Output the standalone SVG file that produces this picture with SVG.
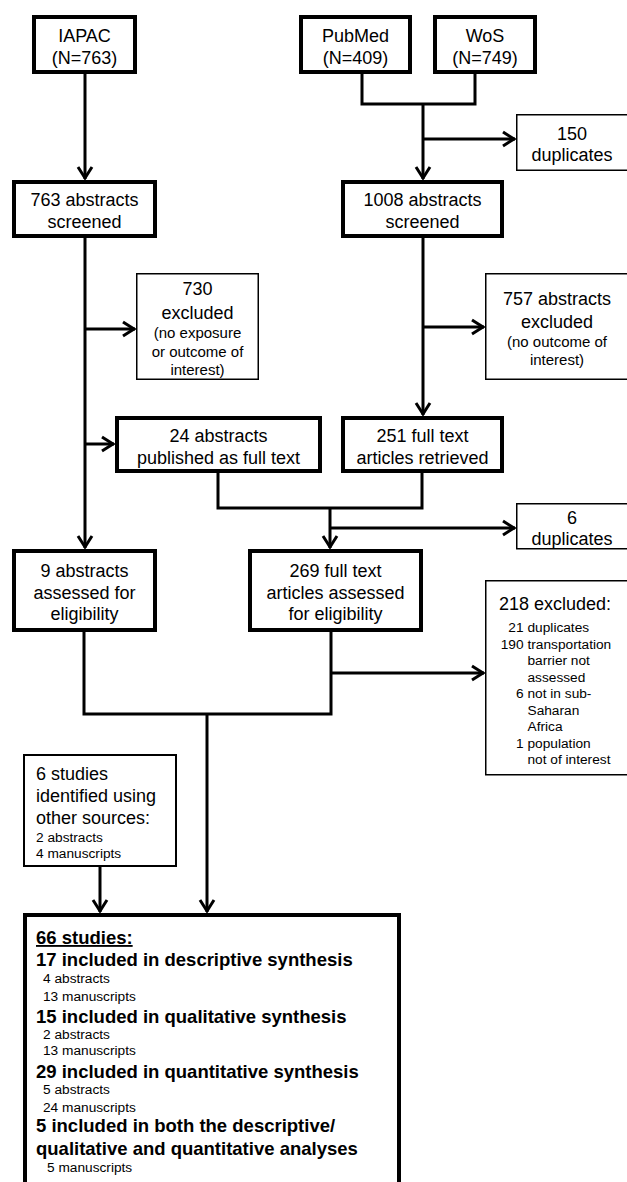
<svg xmlns="http://www.w3.org/2000/svg" width="627" height="1182" viewBox="0 0 627 1182">
<style>
text{font-family:"Liberation Sans",Arial,sans-serif;fill:#000}
.t{font-size:18px;text-anchor:middle}
.l{font-size:18px;text-anchor:start}
.s{font-size:15px;text-anchor:middle}
.x{font-size:13.7px}
.e{font-size:13.7px;text-anchor:end}
.b{font-size:18.5px;font-weight:bold}
.k{fill:#fff;stroke:#000;stroke-width:4}
.n{fill:#fff;stroke:#000;stroke-width:1.5}
.m{fill:#fff;stroke:#000;stroke-width:2}
.c{fill:none;stroke:#000;stroke-width:3}
</style>
<defs>
<marker id="ah" markerUnits="userSpaceOnUse" markerWidth="20" markerHeight="20" refX="15" refY="10" orient="auto" overflow="visible">
<path d="M3,3 L14,10 L3,17" fill="none" stroke="#000" stroke-width="3"/>
</marker>
</defs>
<g id="connectors">
<path class="c" d="M85,74 V179" marker-end="url(#ah)"/>
<path class="c" d="M362,74 V104 H475 V74"/>
<path class="c" d="M423,104 V179" marker-end="url(#ah)"/>
<path class="c" d="M423,139 H515" marker-end="url(#ah)"/>
<path class="c" d="M85,238 V548" marker-end="url(#ah)"/>
<path class="c" d="M85,329 H135" marker-end="url(#ah)"/>
<path class="c" d="M85,444 H114" marker-end="url(#ah)"/>
<path class="c" d="M423,238 V415" marker-end="url(#ah)"/>
<path class="c" d="M423,327 H484" marker-end="url(#ah)"/>
<path class="c" d="M218,473 V508 H422 V473"/>
<path class="c" d="M330,508 V548" marker-end="url(#ah)"/>
<path class="c" d="M330,528 H515" marker-end="url(#ah)"/>
<path class="c" d="M84,632 V714 H331 V632"/>
<path class="c" d="M331,673 H484" marker-end="url(#ah)"/>
<path class="c" d="M207,714 V912" marker-end="url(#ah)"/>
<path class="c" d="M100,867 V912" marker-end="url(#ah)"/>
</g>
<g id="iapac"><rect class="k" x="34" y="17" width="101" height="55"/>
<text class="t" x="84.5" y="41.5">IAPAC</text><text class="t" x="84.5" y="63.5">(N=763)</text></g>
<g id="pubmed"><rect class="k" x="301" y="17" width="109" height="55"/>
<text class="t" x="355.5" y="41.5">PubMed</text><text class="t" x="355.5" y="63.5">(N=409)</text></g>
<g id="wos"><rect class="k" x="435" y="17" width="100" height="55"/>
<text class="t" x="485" y="41.5">WoS</text><text class="t" x="485" y="63.5">(N=749)</text></g>
<g id="dup150"><rect class="n" x="516.75" y="114.75" width="120" height="55.5"/>
<text class="t" x="572" y="139.5">150</text><text class="t" x="572" y="160.5">duplicates</text></g>
<g id="screened763"><rect class="k" x="14" y="182" width="141" height="54"/>
<text class="t" x="84.5" y="205.5">763 abstracts</text><text class="t" x="84.5" y="227.5">screened</text></g>
<g id="screened1008"><rect class="k" x="343" y="182" width="159" height="54"/>
<text class="t" x="422.5" y="205.5">1008 abstracts</text><text class="t" x="422.5" y="227.5">screened</text></g>
<g id="excl730"><rect class="n" x="136.75" y="273.75" width="121.5" height="105.5"/>
<text class="t" x="197.5" y="294.5">730</text><text class="t" x="197.5" y="318.5">excluded</text>
<text class="s" x="197.5" y="337.5">(no exposure</text><text class="s" x="197.5" y="356.5">or outcome of</text><text class="s" x="197.5" y="375">interest)</text></g>
<g id="excl757"><rect class="n" x="485.75" y="273.75" width="150" height="105.5"/>
<text class="t" x="557" y="304.5">757 abstracts</text><text class="t" x="557" y="327.5">excluded</text>
<text class="s" x="557" y="346.5">(no outcome of</text><text class="s" x="557" y="365">interest)</text></g>
<g id="pub24"><rect class="k" x="117" y="418" width="203" height="53"/>
<text class="t" x="218.5" y="441.5">24 abstracts</text><text class="t" x="218.5" y="463.5">published as full text</text></g>
<g id="ret251"><rect class="k" x="343" y="418" width="159" height="53"/>
<text class="t" x="422.5" y="441.5">251 full text</text><text class="t" x="422.5" y="463.5">articles retrieved</text></g>
<g id="dup6"><rect class="n" x="516.75" y="503.75" width="120" height="45"/>
<text class="t" x="572" y="523.5">6</text><text class="t" x="572" y="544.5">duplicates</text></g>
<g id="elig9"><rect class="k" x="14" y="551" width="141" height="79"/>
<text class="t" x="84.5" y="576.5">9 abstracts</text><text class="t" x="84.5" y="598.5">assessed for</text><text class="t" x="84.5" y="620">eligibility</text></g>
<g id="elig269"><rect class="k" x="250" y="551" width="171" height="79"/>
<text class="t" x="335.5" y="576.5">269 full text</text><text class="t" x="335.5" y="598.5">articles assessed</text><text class="t" x="335.5" y="620">for eligibility</text></g>
<g id="excl218"><rect class="n" x="485.75" y="580.75" width="150" height="194"/>
<text class="t" x="555" y="609.5">218 excluded:</text>
<text class="e" x="523.5" y="632">21</text><text class="x" x="527.5" y="632">duplicates</text>
<text class="e" x="523.5" y="648.5">190</text><text class="x" x="527.5" y="648.5">transportation</text>
<text class="x" x="527.5" y="665">barrier not</text>
<text class="x" x="527.5" y="681.5">assessed</text>
<text class="e" x="523.5" y="698">6</text><text class="x" x="527.5" y="698">not in sub-</text>
<text class="x" x="527.5" y="714.5">Saharan</text>
<text class="x" x="527.5" y="731">Africa</text>
<text class="e" x="523.5" y="747.5">1</text><text class="x" x="527.5" y="747.5">population</text>
<text class="x" x="527.5" y="764">not of interest</text>
</g>
<g id="other6"><rect class="m" x="24" y="755" width="152" height="111"/>
<text class="l" x="36" y="780">6 studies</text>
<text class="l" x="36" y="802">identified using</text>
<text class="l" x="36" y="824">other sources:</text>
<text class="x" x="36" y="842">2 abstracts</text>
<text class="x" x="36" y="857.5">4 manuscripts</text></g>
<g id="included66"><rect class="k" x="25" y="915" width="374" height="300"/>
<text class="b" x="36" y="944" text-decoration="underline">66 studies:</text>
<text class="b" x="36" y="966">17 included in descriptive synthesis</text>
<text class="x" x="43" y="983">4 abstracts</text>
<text class="x" x="43" y="1001">13 manuscripts</text>
<text class="b" x="36" y="1022.5">15 included in qualitative synthesis</text>
<text class="x" x="43" y="1039">2 abstracts</text>
<text class="x" x="43" y="1055">13 manuscripts</text>
<text class="b" x="36" y="1077.5">29 included in quantitative synthesis</text>
<text class="x" x="43" y="1094">5 abstracts</text>
<text class="x" x="43" y="1112">24 manuscripts</text>
<text class="b" x="36" y="1131.5">5 included in both the descriptive/</text>
<text class="b" x="36" y="1154.5">qualitative and quantitative analyses</text>
<text class="x" x="47" y="1172">5 manuscripts</text></g>
</svg>
